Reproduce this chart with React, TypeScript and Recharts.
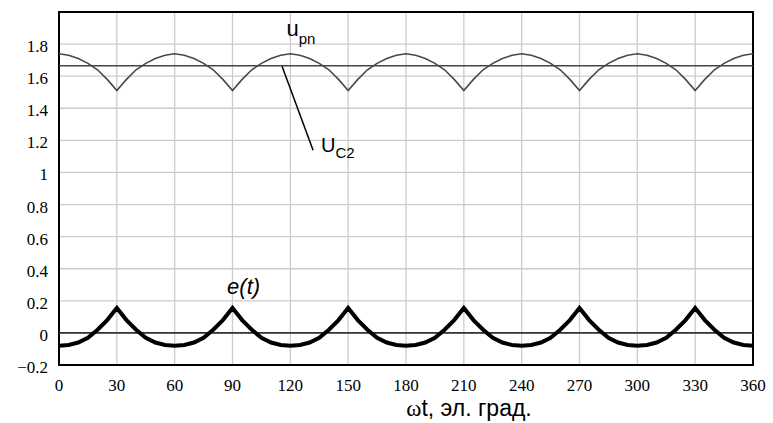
import React from "react"
import {
  LineChart,
  Line,
  XAxis,
  YAxis,
  CartesianGrid,
  ReferenceLine,
  ReferenceDot,
  ReferenceArea,
} from "recharts"

// angle, el. degrees
const angle = [
  0, 5, 10, 15, 20, 25, 30, 35, 40, 45, 50, 55,
  60, 65, 70, 75, 80, 85, 90, 95, 100, 105, 110, 115,
  120, 125, 130, 135, 140, 145, 150, 155, 160, 165, 170, 175,
  180, 185, 190, 195, 200, 205, 210, 215, 220, 225, 230, 235,
  240, 245, 250, 255, 260, 265, 270, 275, 280, 285, 290, 295,
  300, 305, 310, 315, 320, 325, 330, 335, 340, 345, 350, 355,
  360,
]

// rectified voltage u_pn
const uPn = [
  1.74, 1.73, 1.71, 1.68, 1.64, 1.58, 1.51, 1.58, 1.64, 1.68, 1.71, 1.73,
  1.74, 1.73, 1.71, 1.68, 1.64, 1.58, 1.51, 1.58, 1.64, 1.68, 1.71, 1.73,
  1.74, 1.73, 1.71, 1.68, 1.64, 1.58, 1.51, 1.58, 1.64, 1.68, 1.71, 1.73,
  1.74, 1.73, 1.71, 1.68, 1.64, 1.58, 1.51, 1.58, 1.64, 1.68, 1.71, 1.73,
  1.74, 1.73, 1.71, 1.68, 1.64, 1.58, 1.51, 1.58, 1.64, 1.68, 1.71, 1.73,
  1.74, 1.73, 1.71, 1.68, 1.64, 1.58, 1.51, 1.58, 1.64, 1.68, 1.71, 1.73,
  1.74,
]

// e(t)
const eT = [
  -0.08, -0.075, -0.06, -0.03, 0.02, 0.08, 0.155, 0.08, 0.02, -0.03, -0.06, -0.075,
  -0.08, -0.075, -0.06, -0.03, 0.02, 0.08, 0.155, 0.08, 0.02, -0.03, -0.06, -0.075,
  -0.08, -0.075, -0.06, -0.03, 0.02, 0.08, 0.155, 0.08, 0.02, -0.03, -0.06, -0.075,
  -0.08, -0.075, -0.06, -0.03, 0.02, 0.08, 0.155, 0.08, 0.02, -0.03, -0.06, -0.075,
  -0.08, -0.075, -0.06, -0.03, 0.02, 0.08, 0.155, 0.08, 0.02, -0.03, -0.06, -0.075,
  -0.08, -0.075, -0.06, -0.03, 0.02, 0.08, 0.155, 0.08, 0.02, -0.03, -0.06, -0.075,
  -0.08,
]

const uC2 = 1.665

const xTicks = [0, 30, 60, 90, 120, 150, 180, 210, 240, 270, 300, 330, 360]
const yTicks = [-0.2, 0, 0.2, 0.4, 0.6, 0.8, 1, 1.2, 1.4, 1.6, 1.8]

const data = angle.map((a, i) => ({ angle: a, u: uPn[i], e: eT[i] }))

const sans = "Liberation Sans"
const serif = "Liberation Serif"

const fmtY = (v: number) => (v < 0 ? "\u2212" + Math.abs(v) : String(v))

const XTick = (p: any) => (
  <text
    x={p.x}
    y={p.y + 12}
    dy="0.71em"
    textAnchor="middle"
    fontSize={17}
    fill="#000"
    fontFamily={serif}
  >
    {p.payload.value}
  </text>
)

const YTick = (p: any) =>
  p.payload.value === 2 ? null : (
    <text
      x={p.x - 9}
      y={p.y + 2}
      dy="0.355em"
      textAnchor="end"
      fontSize={17}
      fill="#000"
      fontFamily={serif}
    >
      {fmtY(p.payload.value)}
    </text>
  )

export default function App() {
  return (
    <div style={{ position: "absolute", left: 0, top: 0, background: "#fff" }}>
      <LineChart
        width={773}
        height={423}
        data={data}
        margin={{ top: 12, right: 20, bottom: 0, left: 0 }}
      >
        <CartesianGrid stroke="#cccccc" strokeWidth={1.3} />
        <XAxis
          dataKey="angle"
          type="number"
          domain={[0, 360]}
          ticks={xTicks}
          height={58}
          axisLine={false}
          tickLine={false}
          tickSize={0}
          tick={<XTick />}
          interval={0}
          label={{
            content: (p: any) => {
              const vb = p.viewBox
              return (
                <text
                  x={vb.x + vb.width / 2 + 63}
                  y={vb.y + 51}
                  textAnchor="middle"
                  fontSize={23}
                  fill="#000"
                  fontFamily={sans}
                >
                  <tspan fontFamily={serif}>ω</tspan>t, эл. град.
                </text>
              )
            },
          }}
        />
        <YAxis
          type="number"
          domain={[-0.2, 2]}
          ticks={[...yTicks, 2]}
          width={59}
          axisLine={false}
          tickLine={false}
          tickSize={0}
          interval={0}
          tick={<YTick />}
        />
        <ReferenceLine y={0} stroke="#333" strokeWidth={1.6} />
        <ReferenceLine y={uC2} stroke="#444" strokeWidth={1.6} />
        <Line
          dataKey="u"
          type="linear"
          stroke="#484848"
          strokeWidth={1.6}
          dot={false}
          isAnimationActive={false}
        />
        <Line
          dataKey="e"
          type="linear"
          stroke="#000"
          strokeWidth={4}
          dot={false}
          isAnimationActive={false}
        />
        <ReferenceLine
          segment={[
            { x: 115.7, y: 1.662 },
            { x: 131.8, y: 1.138 },
          ]}
          stroke="#000"
          strokeWidth={1.5}
        />
        <ReferenceDot
          x={118}
          y={1.85}
          r={0}
          fill="none"
          stroke="none"
          label={{
            content: (p: any) => (
              <text x={p.viewBox.x} y={p.viewBox.y} fontSize={22} fill="#000" fontFamily={sans}>
                u
                <tspan fontSize={15} dy={8}>pn</tspan>
              </text>
            ),
          }}
        />
        <ReferenceDot
          x={135.9}
          y={1.126}
          r={0}
          fill="none"
          stroke="none"
          label={{
            content: (p: any) => (
              <text x={p.viewBox.x} y={p.viewBox.y} fontSize={20} fill="#000" fontFamily={sans}>
                U
                <tspan fontSize={15} dy={6}>C2</tspan>
              </text>
            ),
          }}
        />
        <ReferenceDot
          x={87.2}
          y={0.244}
          r={0}
          fill="none"
          stroke="none"
          label={{
            content: (p: any) => (
              <text
                x={p.viewBox.x}
                y={p.viewBox.y}
                fontSize={22}
                fontStyle="italic"
                fill="#000"
                fontFamily={sans}
              >
                e(t)
              </text>
            ),
          }}
        />
        <ReferenceArea
          x1={0}
          x2={360}
          y1={-0.2}
          y2={2}
          fill="none"
          stroke="#000"
          strokeWidth={2}
          ifOverflow="visible"
        />
      </LineChart>
    </div>
  )
}
